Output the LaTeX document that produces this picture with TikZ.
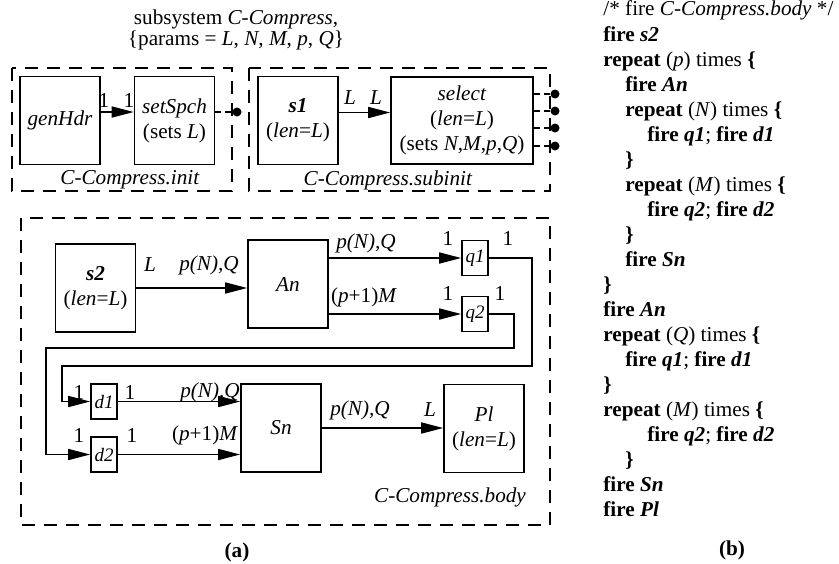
\documentclass[tikz,border=0pt]{standalone}
\usepackage{fontspec}
\setmainfont{Liberation Serif}
\usepackage{tikz}
\usetikzlibrary{arrows.meta, positioning, calc}

\begin{document}
\begin{tikzpicture}[
  x=0.5pt, y=-0.5pt,
  font=\fontsize{10.6}{12.5}\selectfont,
  blk/.style={draw, line width=0.8pt, align=center, inner sep=0pt},
  unit/.style={blk, minimum width=40pt, minimum height=44pt},
  tok/.style={blk, minimum width=13pt, minimum height=17.5pt,
    font=\fontsize{9.5}{11}\selectfont\itshape},
  port/.style={circle, fill=black, inner sep=0pt, minimum size=4.5pt},
  frame/.style={draw, line width=0.75pt, dash pattern=on 6.5pt off 4.5pt},
  stub/.style={draw, line width=0.7pt, dash pattern=on 3pt off 2pt},
  arr/.style={draw, line width=0.8pt, -{Triangle[length=11pt,width=5.5pt]}},
  lbl/.style={inner sep=0pt},
  codeln/.style={anchor=base west, inner sep=0pt},
]
  \useasboundingbox (0,0) rectangle (839,563);

  % Title and dashed subsystem frames
  \node[lbl, align=center, font=\fontsize{10.6}{10.2}\selectfont] (title) at (236,30)
    {subsystem \textit{C-Compress},\\\{params = \textit{L}, \textit{N}, \textit{M}, \textit{p}, \textit{Q}\}};
  \draw[frame] (12,68) rectangle (232,191);
  \draw[frame] (249,68) rectangle (550,191);
  \draw[frame] (21,218) rectangle (550,525);
  \node[lbl] (initname) at (130,180) {\textit{C-Compress.init}};
  \node[lbl] (subname) at (388,180) {\textit{C-Compress.subinit}};
  \node[lbl] (bodyname) at (450,497) {\textit{C-Compress.body}};

  % init
  \node[unit] (genHdr) at (60,120.5) {\textit{genHdr}};
  \node[unit] (setSpch) at (174.5,120.5) {\textit{setSpch}\\(sets \textit{L})};
  \node[port] (o0) at (237,112) {};
  \draw[arr] ([yshift=4.25pt]genHdr.east) -- ([yshift=4.25pt]setSpch.west);
  \draw[stub] ([yshift=4.25pt]setSpch.east) -- (o0);
  \node[lbl] (g1) at (104,100) {1};
  \node[lbl] (g2) at (129,100) {1};

  % subinit
  \node[unit] (s1) at (298,120.5) {\textbf{\textit{s1}}\\(\textit{len}=\textit{L})};
  \node[blk, minimum width=71pt, minimum height=43.5pt] (select) at (462,120.5)
    {\textit{select}\\(\textit{len}=\textit{L})\\(sets \textit{N},\textit{M},\textit{p},\textit{Q})};
  \draw[arr] ([yshift=4pt]s1.east) -- ([yshift=4pt]select.west);
  \node[lbl] (l1) at (350,98) {\textit{L}};
  \node[lbl] (l2) at (376,98) {\textit{L}};
  \foreach \i/\y in {1/94, 2/111, 3/128, 4/146}{
    \node[port] (sel\i) at (555,\y) {};
    \draw[stub] (sel\i -| select.east) -- (sel\i);
  }

  % body
  \node[unit] (s2) at (95.5,288) {\textbf{\textit{s2}}\\(\textit{len}=\textit{L})};
  \node[unit] (An) at (288,284) {\textit{An}};
  \node[tok] (q1) at (475,258) {q1};
  \node[tok] (q2) at (475,314) {q2};
  \node[tok] (d1) at (104,401.5) {d1};
  \node[tok] (d2) at (104,454.5) {d2};
  \node[unit] (Sn) at (281,428) {\textit{Sn}};
  \node[unit] (Pl) at (484,428.5) {\textit{Pl}\\(\textit{len}=\textit{L})};

  \draw[arr] (s2.east) -- (s2.east -| An.west);
  \draw[arr] (An.east |- q1) -- (q1.west);
  \draw[arr] (An.east |- q2) -- (q2.west);
  \draw[arr] (q1.east) -| (532,366) -| ([xshift=-14pt]d1.west) -- (d1.west);
  \draw[arr] (q2.east) -| (514,348) -| ([xshift=-22pt]d2.west) -- (d2.west);
  \draw[arr] (d1.east) -- (d1.east -| Sn.west);
  \draw[arr] (d2.east) -- (d2.east -| Sn.west);
  \draw[arr] (Sn.east) -- (Sn.east -| Pl.west);

  % rate labels
  \node[lbl] (r1) at (150,265) {\textit{L}};
  \node[lbl] (r2) at (209,265) {\textit{p(N),Q}};
  \node[lbl] (r3) at (366,243) {\textit{p(N),Q}};
  \node[lbl] (r4) at (364,297) {(\textit{p}+1)\textit{M}};
  \node[lbl] (r5) at (448,238) {1};
  \node[lbl] (r6) at (508,238) {1};
  \node[lbl] (r7) at (448,293) {1};
  \node[lbl] (r8) at (500,293) {1};
  \node[lbl] (r9) at (79,392) {1};
  \node[lbl] (r10) at (130,392) {1};
  \node[lbl] (r11) at (210,392) {\textit{p(N),Q}};
  \node[lbl] (r12) at (79,435) {1};
  \node[lbl] (r13) at (132,435) {1};
  \node[lbl] (r14) at (205,435) {(\textit{p}+1)\textit{M}};
  \node[lbl] (r15) at (360,410) {\textit{p(N),Q}};
  \node[lbl] (r16) at (430,410) {\textit{L}};

  % schedule
  \node[codeln] (ln0) at (603,15) {/* fire \textit{C-Compress.body} */};
  \foreach \i/\ind/\txt in {
      1/0/{\textbf{fire} \textbf{\textit{s2}}},
      2/0/{\textbf{repeat} (\textit{p}) times \textbf{\{}},
      3/1/{\textbf{fire} \textbf{\textit{An}}},
      4/1/{\textbf{repeat} (\textit{N}) times \textbf{\{}},
      5/2/{\textbf{fire} \textbf{\textit{q1}}; \textbf{fire} \textbf{\textit{d1}}},
      6/1/{\textbf{\}}},
      7/1/{\textbf{repeat} (\textit{M}) times \textbf{\{}},
      8/2/{\textbf{fire} \textbf{\textit{q2}}; \textbf{fire} \textbf{\textit{d2}}},
      9/1/{\textbf{\}}},
      10/1/{\textbf{fire} \textbf{\textit{Sn}}},
      11/0/{\textbf{\}}},
      12/0/{\textbf{fire} \textbf{\textit{An}}},
      13/0/{\textbf{repeat} (\textit{Q}) times \textbf{\{}},
      14/1/{\textbf{fire} \textbf{\textit{q1}}; \textbf{fire} \textbf{\textit{d1}}},
      15/0/{\textbf{\}}},
      16/0/{\textbf{repeat} (\textit{M}) times \textbf{\{}},
      17/2/{\textbf{fire} \textbf{\textit{q2}}; \textbf{fire} \textbf{\textit{d2}}},
      18/1/{\textbf{\}}},
      19/0/{\textbf{fire} \textbf{\textit{Sn}}},
      20/0/{\textbf{fire} \textbf{\textit{Pl}}}}
    \node[codeln] (ln\i) at (603+22*\ind, 16+25*\i) {\txt};

  \node[lbl] (capa) at (237,552) {\textbf{(a)}};
  \node[lbl] (capb) at (732,550) {\textbf{(b)}};
\end{tikzpicture}
\end{document}
